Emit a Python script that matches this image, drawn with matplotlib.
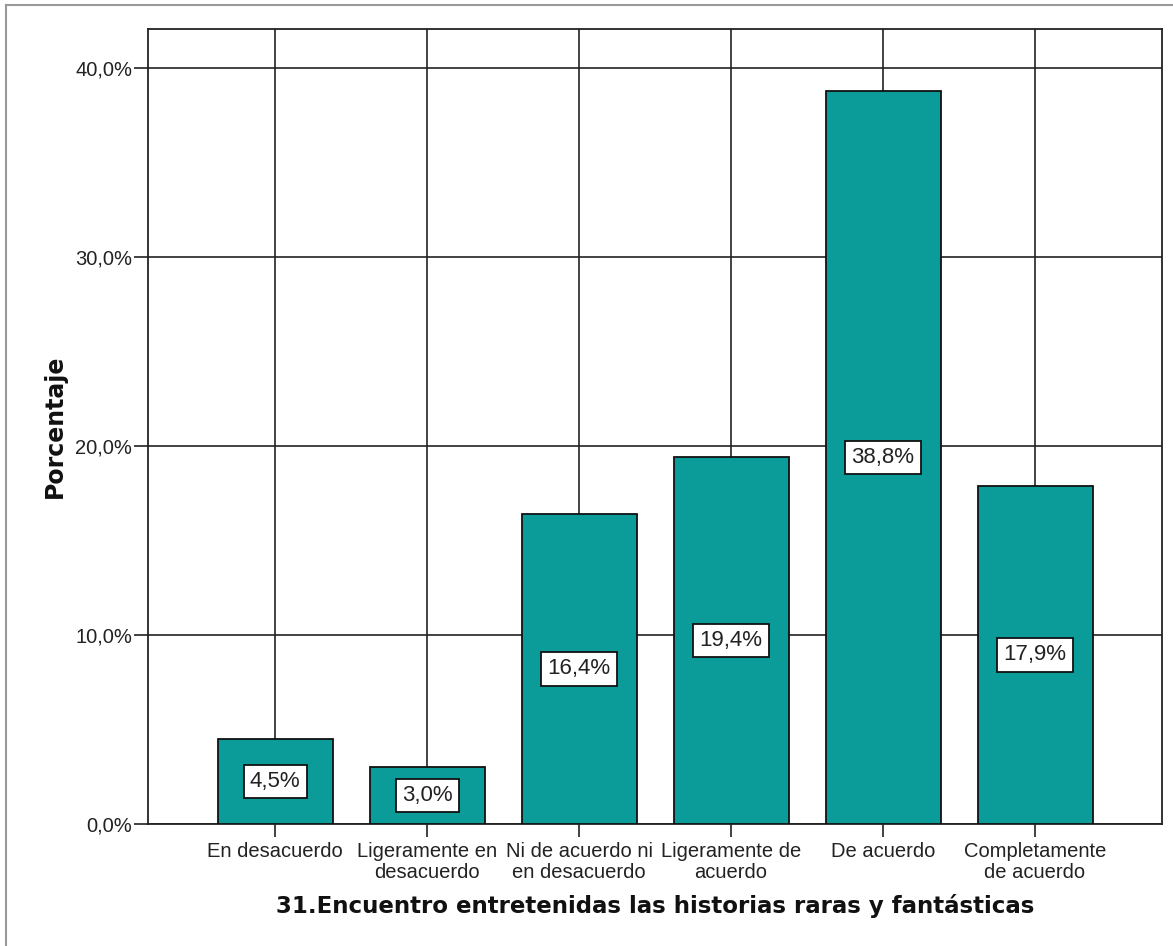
import matplotlib
matplotlib.use("Agg")
import matplotlib.pyplot as plt
from matplotlib.lines import Line2D

# ── Data ──────────────────────────────────────────────────────────────
categories = [
    "En desacuerdo",
    "Ligeramente en\ndesacuerdo",
    "Ni de acuerdo ni\nen desacuerdo",
    "Ligeramente de\nacuerdo",
    "De acuerdo",
    "Completamente\nde acuerdo",
]
percentages = [4.5, 3.0, 16.4, 19.4, 38.8, 17.9]
y_ticks = [0, 10, 20, 30, 40]
y_tick_labels = ["0,0%", "10,0%", "20,0%", "30,0%", "40,0%"]

plt.rcParams["font.family"] = ["Liberation Sans", "DejaVu Sans"]

fig = plt.figure(figsize=(11.73, 9.46), dpi=100)
ax = fig.add_axes([0.1262, 0.1290, 0.8645, 0.8404])

x = list(range(len(categories)))
ax.bar(x, percentages, width=0.757, color="#0b9c9a",
       edgecolor="#111111", linewidth=1.3, zorder=3)

# value labels in white boxes at mid-height
for xi, v in zip(x, percentages):
    ax.text(xi, v / 2, f"{v:.1f}%".replace(".", ","),
            ha="center", va="center", fontsize=16, color="#222222",
            zorder=4,
            bbox=dict(boxstyle="square,pad=0.28", facecolor="white",
                      edgecolor="#111111", linewidth=1.3))

ax.set_xlim(-0.836, 5.836)
ax.set_ylim(0, 42.06)
ax.set_yticks(y_ticks)
ax.set_yticklabels(y_tick_labels, fontsize=14.5, color="#222222")
ax.set_xticks(x)
ax.set_xticklabels(categories, fontsize=14.5, color="#222222",
                   linespacing=1.1)

ax.grid(True, color="#222222", linewidth=1.2, zorder=0)
ax.set_axisbelow(True)
ax.tick_params(axis="y", direction="out", length=10, width=1.3,
               color="#333333", pad=1.5)
ax.tick_params(axis="x", direction="out", length=9, width=1.3,
               color="#333333", pad=4)
for s in ax.spines.values():
    s.set_linewidth(1.3)
    s.set_color("#222222")

ax.set_ylabel("Porcentaje", fontsize=17, fontweight="bold",
              family="DejaVu Sans", labelpad=6, color="#111111")
ax.set_xlabel("31.Encuentro entretenidas las historias raras y fantásticas",
              fontsize=16.5, fontweight="bold", family="DejaVu Sans",
              labelpad=9, color="#111111")

# thin grey frame on left/top of the picture
fig.add_artist(Line2D([0.005, 0.005], [0, 0.995], color="#999999",
                      linewidth=1.5, transform=fig.transFigure))
fig.add_artist(Line2D([0.005, 1], [0.995, 0.995], color="#999999",
                      linewidth=1.5, transform=fig.transFigure))

fig.savefig("out.png", dpi=100)
plt.close(fig)
